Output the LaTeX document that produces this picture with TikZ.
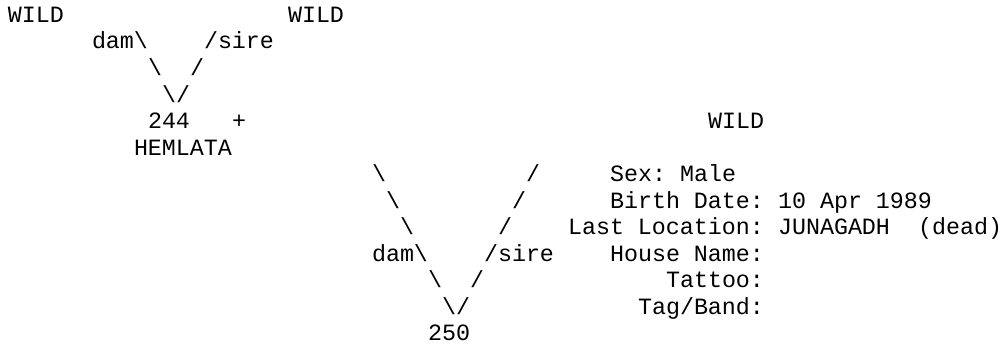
\documentclass[tikz,border=0pt]{standalone}
\usepackage{fontspec}
\setmonofont{Liberation Mono}

\begin{document}
\begin{tikzpicture}[x=14pt, y=-26.5pt,
        txt/.style={anchor=base west, inner sep=0pt, outer sep=0pt,
            font=\ttfamily\fontsize{23.33}{26.5}\selectfont\frenchspacing}]
            \useasboundingbox (-8pt,22.5pt) rectangle (998pt,-322.5pt);

            % parents of 244
            \node[txt] (wildDam) at (0,0) {WILD};
            \node[txt] (wildSire) at (20,0) {WILD};
            \node[txt] (damA) at (6,1) {dam\textbackslash};
            \node[txt] (sireA) at (14,1) {/sire};
            \node[txt] (legLa) at (10,2) {\textbackslash};
            \node[txt] (legRa) at (13,2) {/};
            \node[txt] (tipA) at (11,3) {\textbackslash/};

            % 244 x WILD
            \node[txt] (cow) at (10,4) {244};
            \node[txt] (plus) at (16,4) {+};
            \node[txt] (wildBull) at (50,4) {WILD};
            \node[txt] (cowName) at (9,5) {HEMLATA};

            % lines down to 250
            \node[txt] (legLb) at (26,6) {\textbackslash};
            \node[txt] (legRb) at (37,6) {/};
            \node[txt] (legLc) at (27,7) {\textbackslash};
            \node[txt] (legRc) at (36,7) {/};
            \node[txt] (legLd) at (28,8) {\textbackslash};
            \node[txt] (legRd) at (35,8) {/};
            \node[txt] (damB) at (26,9) {dam\textbackslash};
            \node[txt] (sireB) at (34,9) {/sire};
            \node[txt] (legLe) at (30,10) {\textbackslash};
            \node[txt] (legRe) at (33,10) {/};
            \node[txt] (tipB) at (31,11) {\textbackslash/};
            \node[txt] (calf) at (30,12) {250};

            % details of 250
            \node[txt] (sexKey) at (43,6) {Sex:};
            \node[txt] (sexVal) at (48,6) {Male};
            \node[txt] (birthKey) at (43,7) {Birth Date:};
            \node[txt] (birthVal) at (55,7) {10 Apr 1989};
            \node[txt] (locKey) at (40,8) {Last Location:};
            \node[txt] (locVal) at (55,8) {JUNAGADH};
            \node[txt] (locNote) at (65,8) {(dead)};
            \node[txt] (houseKey) at (43,9) {House Name:};
            \node[txt] (tattooKey) at (47,10) {Tattoo:};
            \node[txt] (tagKey) at (45,11) {Tag/Band:};
        \end{tikzpicture}
\end{document}
